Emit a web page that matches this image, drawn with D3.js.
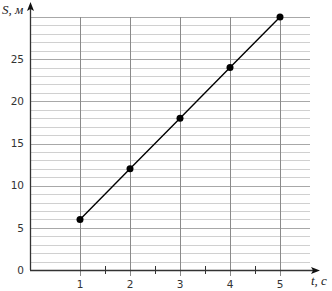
<!DOCTYPE html>
<html>
<head>
<meta charset="utf-8">
<script src="https://cdn.jsdelivr.net/npm/d3@7"></script>
<style>
  body { margin: 0; background: #fff; }
  svg { display: block; }
</style>
</head>
<body>
<script>
// data
const times = [1, 2, 3, 4, 5]          // t, c
const dist = [6, 12, 18, 24, 30]       // S, m
const yLabels = [0, 5, 10, 15, 20, 25]
const xLabels = [1, 2, 3, 4, 5]

const width = 332
const height = 291

const x = d3.scaleLinear().domain([0, 5.6]).range([30, 310])
const y = d3.scaleLinear().domain([0, 30]).range([270, 17])

const svg = d3.select('body').append('svg')
  .attr('width', width)
  .attr('height', height)

// horizontal grid, every unit, darker each 5
svg.append('g')
  .selectAll('line')
  .data(d3.range(1, 31))
  .join('line')
    .attr('x1', x(0))
    .attr('x2', x(5.6))
    .attr('y1', d => Math.round(y(d)) + 0.5)
    .attr('y2', d => Math.round(y(d)) + 0.5)
    .attr('stroke', d => d % 5 === 0 ? '#a8a8a8' : '#d0d0d0')
    .attr('stroke-width', 1.2)

// vertical grid at whole seconds
svg.append('g')
  .selectAll('line')
  .data(xLabels)
  .join('line')
    .attr('x1', d => Math.round(x(d)) + 0.5)
    .attr('x2', d => Math.round(x(d)) + 0.5)
    .attr('y1', y(30))
    .attr('y2', 276)
    .attr('stroke', '#8a8a8a')
    .attr('stroke-width', 1)

// half second ticks
svg.append('g')
  .selectAll('line')
  .data([1.5, 2.5, 3.5, 4.5])
  .join('line')
    .attr('x1', d => Math.round(x(d)) + 0.5)
    .attr('x2', d => Math.round(x(d)) + 0.5)
    .attr('y1', 266)
    .attr('y2', 274)
    .attr('stroke', '#333')

// axes with arrows
svg.append('line')
  .attr('x1', x(0)).attr('x2', 314)
  .attr('y1', 270.5).attr('y2', 270.5)
  .attr('stroke', '#333').attr('stroke-width', 1.3)
svg.append('path')
  .attr('d', 'M320,270.5 L311,267 L313,270.5 L311,274 Z')
  .attr('fill', '#111')

svg.append('line')
  .attr('x1', 30.5).attr('x2', 30.5)
  .attr('y1', 270).attr('y2', 8)
  .attr('stroke', '#333').attr('stroke-width', 1.3)
svg.append('path')
  .attr('d', 'M30.5,2 L27,11 L30.5,9 L34,11 Z')
  .attr('fill', '#111')

// tick labels
svg.append('g')
  .selectAll('text')
  .data(yLabels)
  .join('text')
    .attr('x', 24)
    .attr('y', d => y(d))
    .attr('dy', '0.35em')
    .attr('text-anchor', 'end')
    .attr('font-family', 'DejaVu Sans, sans-serif')
    .attr('font-size', 10.5)
    .attr('fill', '#333')
    .text(d => d)

svg.append('g')
  .selectAll('text')
  .data(xLabels)
  .join('text')
    .attr('x', d => x(d))
    .attr('y', 288)
    .attr('text-anchor', 'middle')
    .attr('font-family', 'DejaVu Sans, sans-serif')
    .attr('font-size', 10.5)
    .attr('fill', '#333')
    .text(d => d)

// axis titles
svg.append('text')
  .attr('x', 2).attr('y', 14)
  .attr('font-family', 'Liberation Serif, serif')
  .attr('font-style', 'italic')
  .attr('font-size', 13)
  .attr('fill', '#222')
  .text('S, м')

svg.append('text')
  .attr('x', 311).attr('y', 285)
  .attr('font-family', 'Liberation Serif, serif')
  .attr('font-style', 'italic')
  .attr('font-size', 13)
  .attr('fill', '#222')
  .text('t, с')

// the line and points
const pts = times.map((t, i) => [t, dist[i]])

svg.append('path')
  .datum(pts)
  .attr('fill', 'none')
  .attr('stroke', '#000')
  .attr('stroke-width', 1.4)
  .attr('d', d3.line().x(d => x(d[0])).y(d => y(d[1])))

svg.append('g')
  .selectAll('circle')
  .data(pts)
  .join('circle')
    .attr('cx', d => x(d[0]))
    .attr('cy', d => y(d[1]))
    .attr('r', 3.5)
    .attr('fill', '#000')
</script>
</body>
</html>
